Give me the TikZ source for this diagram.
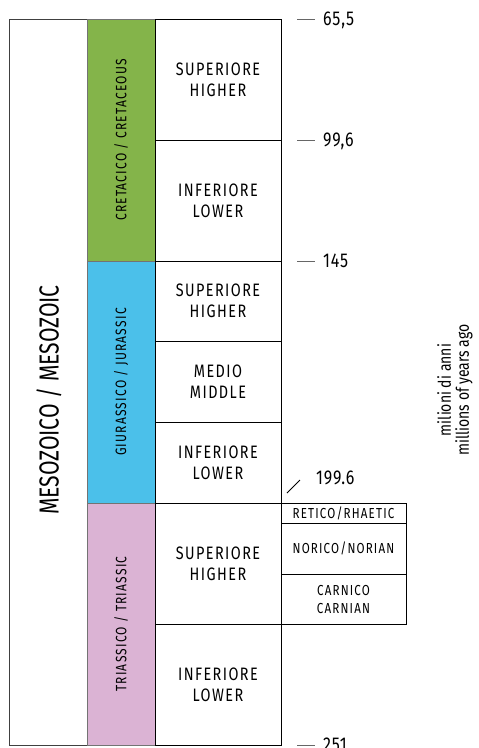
\documentclass[tikz,border=0pt]{standalone}
\usepackage{fontspec}
\setmainfont{Fira Sans}[FakeStretch=0.8]
\newfontfamily\capsfont{Fira Sans}[FakeStretch=0.8,LetterSpace=8]
\newfontfamily\erafont{Fira Sans}[FakeStretch=0.77]
\newfontfamily\agefont{Fira Sans}[FakeStretch=0.8,LetterSpace=4]
\usetikzlibrary{positioning}
\definecolor{cretgreen}{HTML}{84B44A}
\definecolor{jurblue}{HTML}{4BC0EA}
\definecolor{triapink}{HTML}{DBB3D4}
\begin{document}
\begin{tikzpicture}[x=1pt, y=-1pt,
  era/.style = {draw=black!75, line width=1pt, fill=white, minimum width=78pt, minimum height=726pt, inner sep=0pt},
  period/.style = {draw=black!55, line width=1pt, minimum width=68pt, minimum height=242pt, inner sep=0pt, outer sep=0pt},
  epoch/.style = {draw, line width=1pt, fill=white, minimum width=126pt, inner sep=0pt, outer sep=0pt, align=center, font=\capsfont\fontsize{18}{21}\selectfont},
  stage/.style = {draw, line width=1pt, minimum width=125pt, inner sep=0pt, outer sep=0pt, align=center, font=\capsfont\fontsize{14.5}{18}\selectfont},
  vlabel/.style = {rotate=90, inner sep=0pt, font=\capsfont\fontsize{15}{18}\selectfont},
  tick/.style = {draw=black!60, line width=1pt},
  age/.style = {anchor=base west, inner sep=0pt, font=\agefont\fontsize{20}{22}\selectfont}]
\useasboundingbox (0,0) rectangle (479,748);

% era
\node[era] (era) at (48,382) {};
\node[rotate=90, inner sep=0pt, font=\erafont\fontsize{27.5}{30}\selectfont] (eratext) at (49,400) {MESOZOICO / MESOZOIC};

% periods
\node[period, fill=cretgreen] (cret) at (121,140) {};
\node[period, fill=jurblue]   (jur)  [below=0pt of cret] {};
\node[period, fill=triapink]  (tri)  [below=0pt of jur] {};
\node[vlabel] (crettext) at (cret) {CRETACICO / CRETACEOUS};
\node[vlabel] (jurtext)  at (jur)  {GIURASSICO / JURASSIC};
\node[vlabel] (tritext)  at (tri)  {TRIASSICO / TRIASSIC};

% epochs
\node[epoch, minimum height=121pt] (e1) at (218,79.5) {SUPERIORE\\HIGHER};
\node[epoch, minimum height=121pt] (e2) [below=0pt of e1] {INFERIORE\\LOWER};
\node[epoch, minimum height=80pt]  (e3) [below=0pt of e2] {SUPERIORE\\HIGHER};
\node[epoch, minimum height=81pt]  (e4) [below=0pt of e3] {MEDIO\\MIDDLE};
\node[epoch, minimum height=81pt]  (e5) [below=0pt of e4] {INFERIORE\\LOWER};
\node[epoch, minimum height=121pt] (e6) [below=0pt of e5] {SUPERIORE\\HIGHER};
\node[epoch, minimum height=121pt] (e7) [below=0pt of e6] {INFERIORE\\LOWER};

% stages
\node[stage, minimum height=20pt] (s1) at (343.5,513) {RETICO/RHAETIC};
\node[stage, minimum height=51pt] (s2) [below=0pt of s1] {NORICO/NORIAN};
\node[stage, minimum height=50pt] (s3) [below=0pt of s2] {CARNICO\\CARNIAN};

% ages
\foreach \y/\t [count=\i] in {19/{65,5}, 140/{99,6}, 261/145, 745/251} {
  \draw[tick] (297,\y) -- (315,\y);
  \node[age] (a\i) at (323,\y+6.5) {\t};
}
\draw[line width=0.8pt] (287,493) -- (300,480);
\node[age] (a5) at (316,484) {199.6};

\node[rotate=90, align=center, font=\fontsize{17.5}{18}\selectfont] (unit) at (455,390) {milioni di anni\\millions of years ago};
\end{tikzpicture}
\end{document}
